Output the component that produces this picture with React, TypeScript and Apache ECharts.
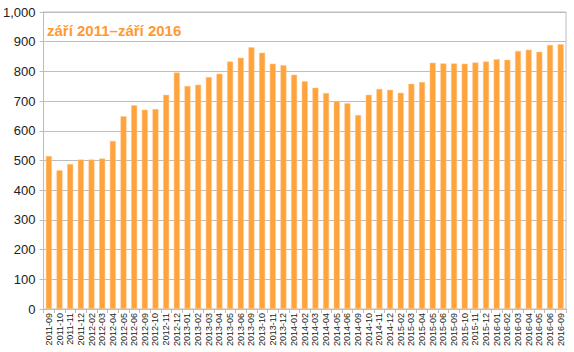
import React, { useEffect, useRef } from "react";
import * as echarts from "echarts";

const categories = [
  "2011-09", "2011-10", "2011-11", "2011-12",
  "2012-02", "2012-03", "2012-04", "2012-05", "2012-06", "2012-09", "2012-10", "2012-11", "2012-12",
  "2013-01", "2013-02", "2013-03", "2013-04", "2013-05", "2013-06", "2013-09", "2013-10", "2013-11", "2013-12",
  "2014-01", "2014-02", "2014-03", "2014-04", "2014-05", "2014-06", "2014-09", "2014-10", "2014-11", "2014-12",
  "2015-02", "2015-03", "2015-04", "2015-05", "2015-06", "2015-09", "2015-10", "2015-11", "2015-12",
  "2016-01", "2016-02", "2016-03", "2016-04", "2016-05", "2016-06", "2016-09",
];

const values = [
  515, 467, 488, 503,
  503, 507, 566, 649, 686, 671, 673, 721, 796,
  751, 755, 781, 792, 833, 846, 881, 863, 826, 821,
  789, 767, 745, 727, 700, 693, 653, 721, 741, 738,
  728, 758, 764, 829, 827, 827, 826, 830, 833,
  841, 839, 869, 873, 866, 889, 891,
];

const title = "září 2011–září 2016";

export default function App() {
  const ref = useRef<HTMLDivElement>(null);
  useEffect(() => {
    if (!ref.current) return;
    const chart = echarts.init(ref.current, undefined, { renderer: "svg" });
    chart.setOption({
      animation: false,
      textStyle: { fontFamily: "Liberation Sans, Arial, sans-serif" },
      grid: {
        left: 43,
        right: 8,
        top: 12,
        bottom: 43,
        show: true,
        borderColor: "#bdbdbd",
        borderWidth: 1,
        backgroundColor: "transparent",
      },
      graphic: [
        {
          type: "text",
          left: 47,
          top: 23,
          style: {
            text: title,
            fill: "#FF9933",
            font: "bold 15px Liberation Sans, Arial, sans-serif",
          },
        },
      ],
      xAxis: {
        type: "category",
        data: categories,
        axisLine: { lineStyle: { color: "#bdbdbd" } },
        axisTick: { show: true, length: 4, lineStyle: { color: "#bdbdbd" } },
        axisLabel: {
          interval: 0,
          rotate: 90,
          fontSize: 9,
          color: "#222",
          margin: 4,
        },
      },
      yAxis: {
        type: "value",
        min: 0,
        max: 1000,
        interval: 100,
        axisLine: { show: true, lineStyle: { color: "#bdbdbd" } },
        axisTick: { show: true, length: 4, lineStyle: { color: "#bdbdbd" } },
        splitLine: { lineStyle: { color: "#bdbdbd" } },
        axisLabel: {
          fontSize: 13,
          color: "#222",
          margin: 8,
          formatter: (v: number) => v.toLocaleString("en-US"),
        },
      },
      series: [
        {
          type: "bar",
          data: values,
          barWidth: 6,
          itemStyle: { color: "#FFA33C", borderColor: "#FFC98A", borderWidth: 0.5 },
        },
      ],
    });
    return () => chart.dispose();
  }, []);
  return <div ref={ref} style={{ width: 574, height: 352, position: "absolute", left: 0, top: 0 }} />;
}
